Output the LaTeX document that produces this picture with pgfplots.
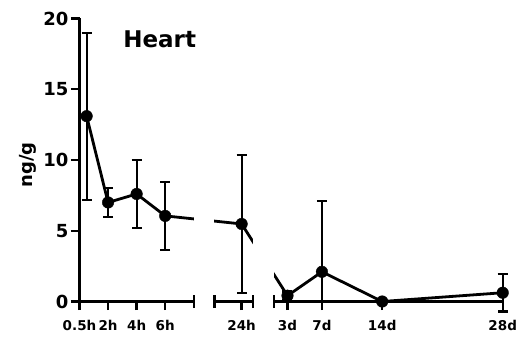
\documentclass[border=0pt]{standalone}
\usepackage{fontspec}
\setmainfont{DejaVu Sans}
\usepackage{pgfplots}
\pgfplotsset{compat=1.18}
\usepackage{pgfplotstable}

% time in hours, concentration (ng/g), error up / down
\pgfplotstableread{
t    y     ep    em
0.5  13.1  5.9   5.9
2    7.0   1.0   1.0
4    7.6   2.4   2.4
6    6.05  2.4   2.4
24   5.48  4.9   4.9
72   0.41  0.3   0.3
168  2.1   5.0   2.1
336  0.0   0.0   0.0
672  0.62  1.32  1.32
}\heart

% broken time axis: 0-8 h | 24 h | 3-28 d
\newcommand{\brokenx}{\thisrow{t}<=8 ? \thisrow{t} : (\thisrow{t}<=30 ? \thisrow{t}-12.65 : 14.56+(\thisrow{t}/24-3)*0.6026)}

\begin{document}
\begin{tikzpicture}
\useasboundingbox (0,0) rectangle (526pt,343pt);
\begin{axis}[
  at={(79.5pt,41.5pt)}, anchor=south west,
  scale only axis, width=423.2pt, height=283pt,
  xmin=0, xmax=29.625, ymin=0, ymax=20,
  clip=false,
  axis lines=left,
  axis line style={-, line width=2.3pt},
  x axis line style={draw=none},
  ytick={0,5,10,15,20},
  xtick={0,2,4,6,11.35,14.56,16.97,21.19,29.625},
  xticklabels={0.5h,2h,4h,6h,24h,3d,7d,14d,28d},
  tick style={line width=2.3pt, black},
  major tick length=8.5pt,
  tick align=outside,
  /pgf/number format/assume math mode=true,
  yticklabel style={font=\bfseries\fontsize{18}{18}\selectfont, xshift=1pt},
  xticklabel style={font=\bfseries\fontsize{13.5}{13.5}\selectfont, yshift=-7pt},
]
% connecting line
\addplot[line width=2.8pt, black] table[x expr={\brokenx}, y=y] {\heart};
% blank out the axis breaks
\fill[white] (axis cs:8,0.2) rectangle (axis cs:9.44,20);
\fill[white] (axis cs:12.14,0.2) rectangle (axis cs:13.63,20);
% x axis segments with end caps
\draw[line width=2.3pt] (axis cs:0,0) -- (axis cs:8,0)
  (axis cs:9.44,0) -- (axis cs:12.14,0)
  (axis cs:13.63,0) -- (axis cs:29.625,0);
\draw[line width=2.3pt] ([yshift=-6.5pt]axis cs:8,0) -- ([yshift=6.5pt]axis cs:8,0);
\draw[line width=2.3pt] ([yshift=-6.5pt]axis cs:9.44,0) -- ([yshift=6.5pt]axis cs:9.44,0);
\draw[line width=2.3pt] ([yshift=-6.5pt]axis cs:12.14,0) -- ([yshift=6.5pt]axis cs:12.14,0);
\draw[line width=2.3pt] ([yshift=-6.5pt]axis cs:13.63,0) -- ([yshift=6.5pt]axis cs:13.63,0);
\draw[line width=2.3pt] ([yshift=-6.5pt]axis cs:29.625,0) -- ([yshift=6.5pt]axis cs:29.625,0);
% means with error bars
\addplot[only marks, mark=*, mark size=5.8pt, black,
  error bars/.cd, y dir=both, y explicit,
  error bar style={line width=2.2pt},
  error mark options={rotate=90, mark size=5pt, line width=2.2pt}]
  table[x expr={\brokenx}, y=y, y error plus=ep, y error minus=em] {\heart};
\end{axis}
\node[font=\bfseries\fontsize{23}{23}\selectfont] at (159.7pt,303.7pt) {Heart};
\node[rotate=90, font=\bfseries\fontsize{18}{18}\selectfont] at (28pt,178pt) {ng/g};
\end{tikzpicture}
\end{document}
